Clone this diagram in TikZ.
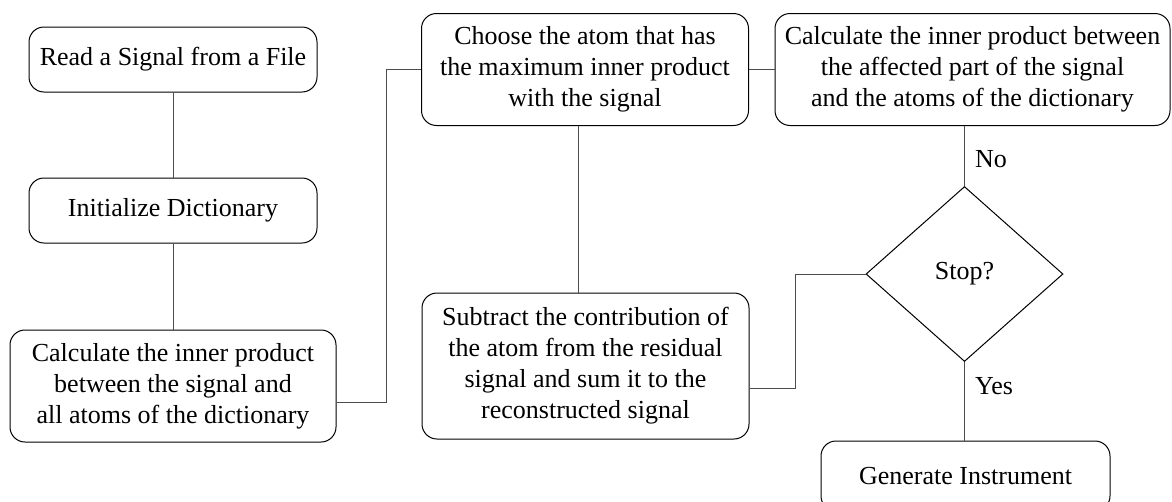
\documentclass[tikz,border=0pt]{standalone}
\usepackage{fontspec}
\setmainfont{Liberation Serif}
\usetikzlibrary{shapes.geometric,calc}
\newcommand\boxfont{\fontsize{26}{31}\selectfont}
\begin{document}
\begin{tikzpicture}[x=1pt,y=-1pt,
  box/.style={draw=black, line width=1pt, rounded corners=15pt, align=center, inner sep=0pt, font=\boxfont},
  decision/.style={draw=black, line width=1pt, diamond, inner sep=0pt, font=\boxfont},
  link/.style={draw=gray!60!black, line width=1pt},
  lbl/.style={font=\boxfont, anchor=west, inner sep=0pt}]
\clip (0,0) rectangle (1172,501);
\useasboundingbox (0,0) rectangle (1172,501);
\node[box, minimum width=288pt, minimum height=65pt] (A) at (173,59.5) {Read a Signal from a File};
\node[box, minimum width=288pt, minimum height=65pt] (B) at (173,210.5) {Initialize Dictionary};
\node[box, minimum width=326pt, minimum height=112pt] (C) at (173,386) {Calculate the inner product\\between the signal and\\all atoms of the dictionary};
\node[box, minimum width=327pt, minimum height=112pt] (D) at (585,69.5) {Choose the atom that has\\the maximum inner product\\with the signal};
\node[box, minimum width=327pt, minimum height=146pt] (E) at (585.5,366) {Subtract the contribution of\\the atom from the residual\\signal and sum it to the\\reconstructed signal};
\node[box, minimum width=395pt, minimum height=112pt] (F) at (972.5,69.5) {Calculate the inner product between\\the affected part of the signal\\and the atoms of the dictionary};
\node[decision, minimum width=197pt, minimum height=175pt] (S) at (964.5,274) {Stop?};
\node[box, minimum width=289pt, minimum height=70pt] (G) at (965.5,476) {Generate Instrument};
\draw[link] (A) -- (B);
\draw[link] (B) -- (C);
\draw[link] ($(C.east)+(0,16)$) -- ++(50,0) |- (D.west);
\draw[link] (D.east) -- (F.west);
\draw[link] ($(D.south)+(-7,0)$) -- ($(E.north)+(-7.5,0)$);
\draw[link] ($(E.east)+(0,22)$) -- ++(46,0) |- (S.west);
\draw[link] (S.north |- F.south) -- (S.north);
\draw[link] (S.south) -- (S.south |- G.north);
\node[lbl] (no) at (975,159) {No};
\node[lbl] (yes) at (975,386) {Yes};
\end{tikzpicture}
\end{document}
